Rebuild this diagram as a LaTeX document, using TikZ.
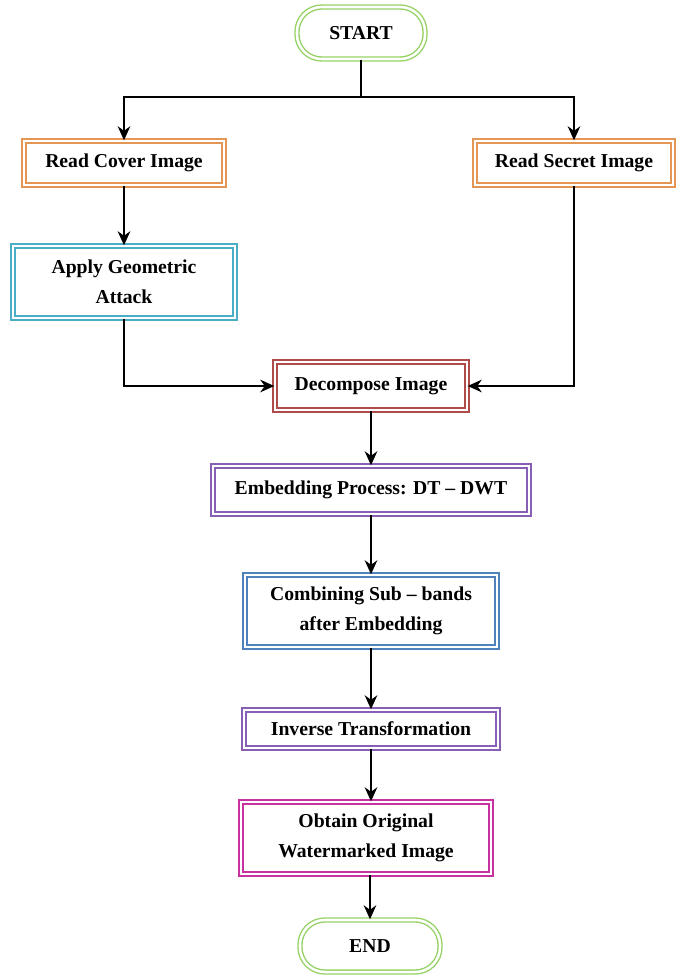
\documentclass[tikz,border=0pt]{standalone}
\usepackage{fontspec}
\setmainfont{Liberation Serif}
\usetikzlibrary{arrows.meta}

\definecolor{boxorange}{RGB}{228,150,84}
\definecolor{boxteal}{RGB}{75,172,198}
\definecolor{boxred}{RGB}{175,75,75}
\definecolor{boxpurple}{RGB}{135,95,180}
\definecolor{boxblue}{RGB}{79,129,189}
\definecolor{boxmagenta}{RGB}{200,50,160}
\definecolor{boxgreen}{RGB}{150,210,100}

\tikzset{
    box/.style={draw=#1, double=white, double distance=1.8pt, line width=1pt,
        align=center, font=\fontsize{14}{21}\selectfont\bfseries, inner sep=2pt},
    terminal/.style={box=boxgreen, rounded corners=0.62cm},
    arrow/.style={-{Stealth[length=10pt,width=9pt]}, line width=1.1pt},
    link/.style={line width=1.1pt}
}

\begin{document}
\begin{tikzpicture}[x=0.025cm, y=-0.025cm]
    \useasboundingbox (0,0) rectangle (676,975);

    % terminals
    \node[terminal, minimum width=3.2cm, minimum height=1.3cm] (start) at (361,33) {START};
    \node[terminal, minimum width=3.5cm, minimum height=1.3cm] (end) at (370,946) {END};

    % steps
    \node[box=boxorange, minimum width=5.0cm, minimum height=1.1cm] (cover) at (124,163) {Read Cover Image};
    \node[box=boxorange, minimum width=4.95cm, minimum height=1.1cm] (secret) at (574,163) {Read Secret Image};
    \node[box=boxteal, minimum width=5.55cm, minimum height=1.8cm] (attack) at (124,282) {Apply Geometric\\Attack};
    \node[box=boxred, minimum width=4.8cm, minimum height=1.2cm] (decomp) at (371,386) {Decompose Image};
    \node[box=boxpurple, minimum width=7.9cm, minimum height=1.2cm] (embed) at (371,490) {Embedding Process: DT -- DWT};
    \node[box=boxblue, minimum width=6.3cm, minimum height=1.8cm] (combine) at (371,611) {Combining Sub -- bands\\after Embedding};
    \node[box=boxpurple, minimum width=6.35cm, minimum height=0.95cm] (inverse) at (371,729) {Inverse Transformation};
    \node[box=boxmagenta, minimum width=6.25cm, minimum height=1.8cm] (obtain) at (366,838) {Obtain Original\\Watermarked Image};

    \coordinate (split) at (361,97);

    % connectors
    \draw[link] (start) -- (split);
    \draw[arrow] (split) -| (cover.north);
    \draw[arrow] (split) -| (secret.north);
    \draw[arrow] (cover) -- (attack);
    \draw[arrow] (attack.south) |- (decomp.west);
    \draw[arrow] (secret.south) |- (decomp.east);
    \draw[arrow] (decomp) -- (embed);
    \draw[arrow] (embed) -- (combine);
    \draw[arrow] (combine) -- (inverse);
    \draw[arrow] (inverse.south) -- (inverse.south |- obtain.north);
    \draw[arrow] (obtain.south -| end) -- (end);
\end{tikzpicture}
\end{document}
